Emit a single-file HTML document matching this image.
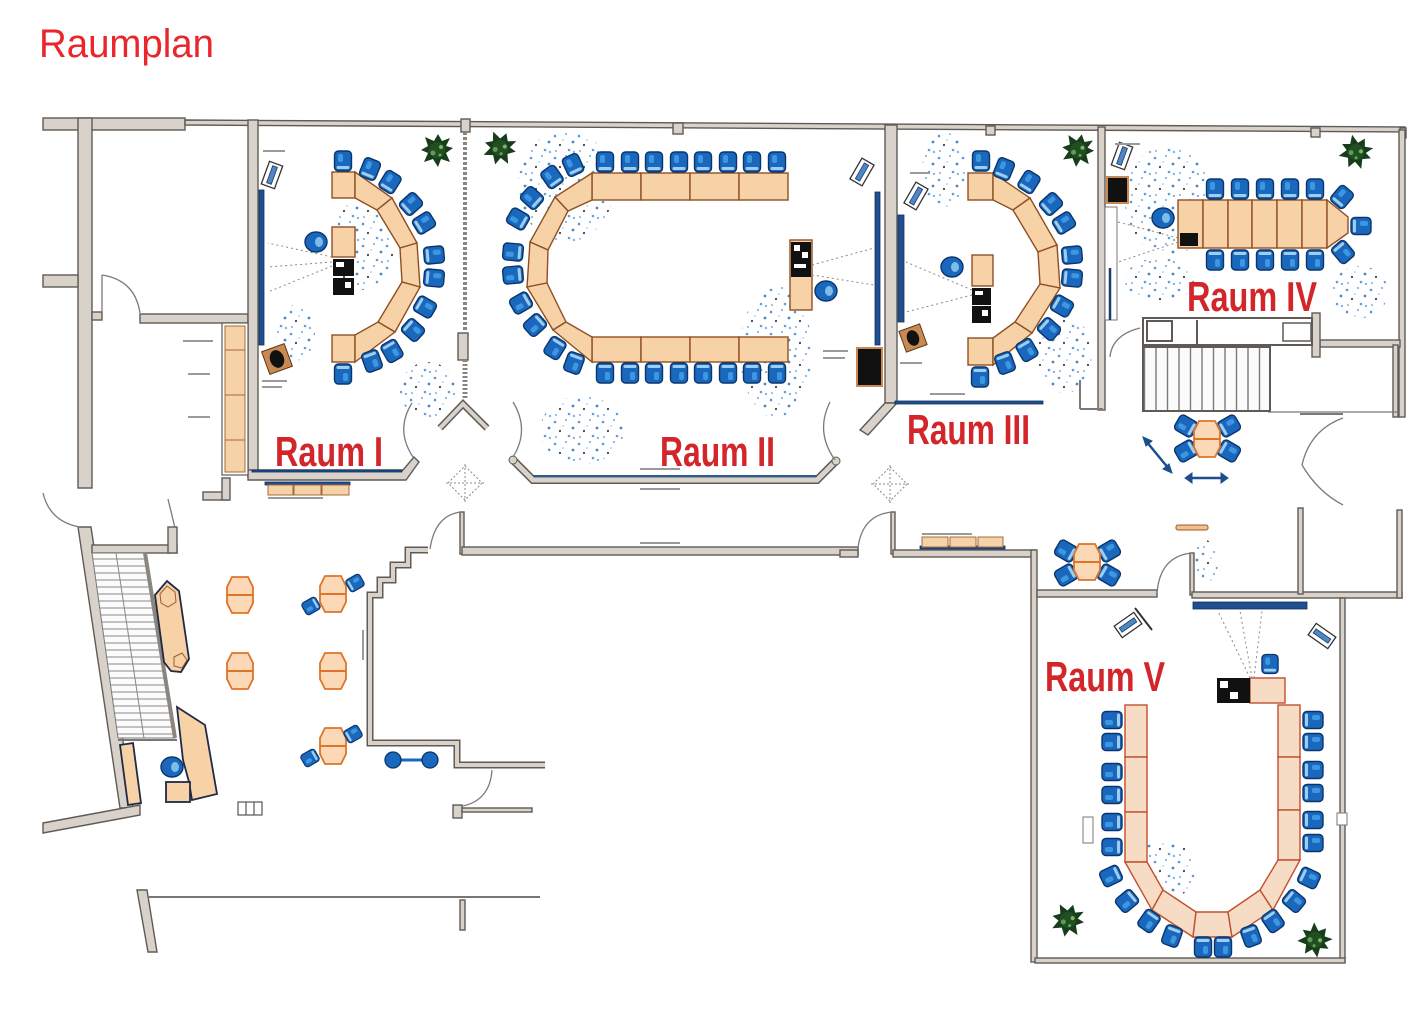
<!DOCTYPE html>
<html>
<head>
<meta charset="utf-8">
<style>
html,body{margin:0;padding:0;background:#fff;}
body{width:1426px;height:1024px;overflow:hidden;}
svg{display:block;}
.lbl{font-family:"Liberation Sans Narrow","Liberation Sans",sans-serif;font-weight:bold;fill:#d2262b;font-size:42px;}
</style>
</head>
<body>
<svg width="1426" height="1024" viewBox="0 0 1426 1024" xmlns="http://www.w3.org/2000/svg">
<defs>
  <pattern id="tread" width="10" height="7" patternUnits="userSpaceOnUse">
    <rect width="10" height="7" fill="#fbfbfb"/>
    <line x1="0" y1="6" x2="10" y2="6" stroke="#8a8a8a" stroke-width="1"/>
  </pattern>
  <pattern id="vtread" width="11.5" height="10" patternUnits="userSpaceOnUse">
    <rect width="11.5" height="10" fill="#fbfbfb"/>
    <line x1="6" y1="0" x2="6" y2="10" stroke="#7a7a7a" stroke-width="1.4"/>
  </pattern>
  <pattern id="dots" width="24" height="22" patternUnits="userSpaceOnUse">
    <circle cx="3" cy="4" r="1.3" fill="#4f93d6"/>
    <circle cx="14" cy="2" r="1.1" fill="#7ab2e4"/>
    <circle cx="21" cy="10" r="1.4" fill="#3b83cc"/>
    <circle cx="8" cy="13" r="1.1" fill="#2f3b4a"/>
    <circle cx="17" cy="18" r="1.3" fill="#5a9bd8"/>
    <circle cx="4" cy="19" r="1.1" fill="#86bce8"/>
    <circle cx="22" cy="20" r="1" fill="#4f93d6"/>
    <circle cx="11" cy="8" r="0.9" fill="#9cc8ee"/>
  </pattern>
  <g id="c">
    <rect x="-8.5" y="-10" width="17" height="20" rx="4" fill="#1a68bd" stroke="#0a356c" stroke-width="1.4"/>
    <rect x="-5" y="-7" width="5" height="8" rx="2" fill="#3f96e0"/>
    <rect x="-6.5" y="5" width="13" height="3" rx="1.5" fill="#9fcdef"/>
  </g>
  <g id="rc">
    <ellipse cx="0" cy="0" rx="11" ry="10" fill="#1a68bd" stroke="#0a356c" stroke-width="1.4"/>
    <ellipse cx="3" cy="0" rx="4" ry="5" fill="#7fbde9"/>
  </g>
  <g id="hx">
    <polygon points="-8,-18 8,-18 13,-8 13,8 8,18 -8,18 -13,8 -13,-8" fill="#fbd9b6" stroke="#e07328" stroke-width="1.8"/>
    <line x1="-13" y1="0" x2="13" y2="0" stroke="#e07328" stroke-width="2"/>
  </g>
  <g id="pl">
    <polygon points="16,-2 9,3 13,12 4,9 1,17 -4,9 -13,12 -9,3 -16,0 -9,-4 -12,-13 -3,-9 1,-16 5,-9 13,-12 9,-4" fill="#173d1a"/>
    <circle cx="0" cy="0" r="8" fill="#224f22"/>
    <circle cx="-4" cy="3" r="2.5" fill="#5f9a56"/>
    <circle cx="4" cy="-3" r="2" fill="#7db468"/>
    <circle cx="3" cy="5" r="1.5" fill="#6aa55a"/>
  </g>
  <g id="pj">
    <rect x="-12" y="-7" width="24" height="14" fill="#fff" stroke="#333" stroke-width="1.3"/>
    <rect x="-9" y="-2.5" width="18" height="5" fill="#4f86c4" stroke="#1c3d6a" stroke-width="0.8"/>
  </g>
</defs>

<rect width="1426" height="1024" fill="#ffffff"/>

<!-- Title -->
<text x="39" y="57" font-family="Liberation Sans, Arial, sans-serif" font-size="40" fill="#e8262b" textLength="175" lengthAdjust="spacingAndGlyphs">Raumplan</text>

<!-- speckles -->
<g opacity="0.95">
  <ellipse cx="362" cy="245" rx="32" ry="45" fill="url(#dots)"/>
  <ellipse cx="295" cy="333" rx="20" ry="28" fill="url(#dots)"/>
  <ellipse cx="428" cy="390" rx="28" ry="28" fill="url(#dots)"/>
  <ellipse cx="566" cy="186" rx="48" ry="56" fill="url(#dots)"/>
  <ellipse cx="776" cy="352" rx="36" ry="66" fill="url(#dots)"/>
  <ellipse cx="582" cy="430" rx="42" ry="34" fill="url(#dots)"/>
  <ellipse cx="944" cy="170" rx="22" ry="38" fill="url(#dots)"/>
  <ellipse cx="1065" cy="355" rx="28" ry="38" fill="url(#dots)"/>
  <ellipse cx="1170" cy="200" rx="45" ry="55" fill="url(#dots)"/>
  <ellipse cx="1160" cy="280" rx="35" ry="22" fill="url(#dots)"/>
  <ellipse cx="1360" cy="292" rx="28" ry="26" fill="url(#dots)"/>
  <ellipse cx="1205" cy="562" rx="13" ry="22" fill="url(#dots)"/>
  <ellipse cx="1165" cy="870" rx="30" ry="30" fill="url(#dots)"/>
</g>

<!-- ================= WALLS ================= -->
<g fill="#d9d2cb" stroke="#5f5a55" stroke-width="1.4">
  <rect x="43" y="118" width="142" height="12"/>
  <polygon points="185,120 1405,127 1405,132 185,125"/>
  <rect x="461" y="119" width="9" height="13"/>
  <rect x="673" y="123" width="10" height="11"/>
  <rect x="986" y="126" width="9" height="9"/>
  <rect x="1311" y="128" width="9" height="9"/>
  <rect x="1400" y="128" width="6" height="10"/>
  <rect x="78" y="118" width="14" height="370"/>
  <rect x="43" y="275" width="35" height="12"/>
  <rect x="92" y="312" width="10" height="8"/>
  <rect x="140" y="314" width="108" height="9"/>
  <rect x="248" y="120" width="10" height="357"/>
  <polygon points="248,470 403,470 414,457 419,462 406,480 248,480"/>
  <rect x="203" y="492" width="25" height="8"/>
  <rect x="222" y="478" width="8" height="22"/>
  <rect x="885" y="125" width="12" height="278"/>
  <polygon points="885,403 897,403 868,435 860,430"/>
  <rect x="1098" y="127" width="7" height="283"/>
  <rect x="1399" y="130" width="6" height="287"/>
  <rect x="1320" y="340" width="80" height="7"/>
  <rect x="1312" y="313" width="8" height="44"/>
  <rect x="460" y="512" width="4" height="42"/>
  <rect x="462" y="547" width="396" height="8"/>
  <rect x="840" y="550" width="18" height="7"/>
  <rect x="891" y="512" width="4" height="42"/>
  <rect x="893" y="550" width="142" height="7"/>
  <rect x="1031" y="550" width="6" height="412"/>
  <rect x="1037" y="590" width="120" height="7"/>
  <rect x="1190" y="553" width="4" height="42"/>
  <rect x="1192" y="592" width="210" height="6"/>
  <rect x="1340" y="598" width="5" height="364"/>
  <rect x="1035" y="958" width="310" height="5"/>
  <rect x="1298" y="508" width="5" height="86"/>
  <rect x="1397" y="510" width="5" height="88"/>
  <rect x="1393" y="345" width="5" height="72"/>
  <polygon points="78,527 91,527 133,808 120,808"/>
  <polygon points="43,823 140,805 140,815 43,833"/>
  <rect x="92" y="545" width="85" height="8"/>
  <rect x="168" y="527" width="9" height="26"/>
  <polygon points="137,890 147,890 157,952 148,952"/>
  <rect x="460" y="900" width="5" height="30"/>
  <rect x="453" y="805" width="9" height="13"/>
  <rect x="462" y="808" width="70" height="4"/>
  <rect x="458" y="333" width="10" height="27"/>
</g>

<!-- stepped lobby wall -->
<polyline points="428,550 408,550 408,565 393,565 393,580 380,580 380,595 370,595 370,743 457,743 457,765 545,765" fill="none" stroke="#5f5a55" stroke-width="7"/>
<polyline points="428,550 408,550 408,565 393,565 393,580 380,580 380,595 370,595 370,743 457,743 457,765 545,765" fill="none" stroke="#d9d2cb" stroke-width="4"/>

<!-- Raum II bottom wall -->
<polyline points="513,460 533,480 817,480 836,461" fill="none" stroke="#5f5a55" stroke-width="8"/>
<polyline points="513,460 533,480 817,480 836,461" fill="none" stroke="#d9d2cb" stroke-width="5"/>
<line x1="533" y1="476" x2="817" y2="476" stroke="#2a5c9a" stroke-width="2"/>
<circle cx="513" cy="460" r="4" fill="#d9d2cb" stroke="#5f5a55"/>
<circle cx="836" cy="461" r="4" fill="#d9d2cb" stroke="#5f5a55"/>
<rect x="640" y="468" width="40" height="2" fill="#999"/>
<rect x="640" y="488" width="40" height="2" fill="#999"/>
<rect x="640" y="542" width="40" height="2" fill="#999"/>

<!-- partition I/II -->
<line x1="465" y1="132" x2="465" y2="333" stroke="#8a8580" stroke-width="4" stroke-dasharray="3,2"/>
<line x1="465" y1="360" x2="465" y2="400" stroke="#8a8580" stroke-width="5" stroke-dasharray="2,2"/>
<polyline points="440,428 463,404 487,428" fill="none" stroke="#5f5a55" stroke-width="7"/>
<polyline points="440,428 463,404 487,428" fill="none" stroke="#d9d2cb" stroke-width="4"/>

<!-- door arcs -->
<g fill="none" stroke="#7a7a7a" stroke-width="1.3">
  <path d="M102,275 L102,313"/>
  <path d="M102,275 Q135,280 140,313"/>
  <path d="M412,403 Q395,430 413,457"/>
  <path d="M513,402 Q530,430 513,457"/>
  <path d="M830,402 Q815,432 835,460"/>
  <path d="M430,549 Q435,515 461,512"/>
  <path d="M858,548 Q862,515 892,512"/>
  <path d="M1157,593 Q1160,556 1192,553"/>
  <path d="M43,493 Q50,522 80,527"/>
  <path d="M492,770 Q490,800 463,806"/>
  <path d="M1140,328 Q1112,335 1110,357"/>
  <path d="M1343,418 Q1310,430 1302,465"/>
  <path d="M1302,465 Q1318,492 1343,505"/>
  <line x1="1300" y1="414" x2="1343" y2="414" stroke-width="2"/>
  <line x1="1268" y1="412" x2="1400" y2="412"/>
  <line x1="1080" y1="380" x2="1080" y2="409" stroke-width="2"/>
  <line x1="1080" y1="409" x2="1103" y2="409" stroke-width="2"/>
  <line x1="168" y1="499" x2="175" y2="528"/>
  <line x1="148" y1="897" x2="540" y2="897" stroke="#777" stroke-width="2"/>
</g>

<!-- diamonds -->
<g fill="none" stroke="#888" stroke-width="1" stroke-dasharray="2,2">
  <polygon points="465,466 482,483 465,500 448,483"/>
  <line x1="465" y1="464" x2="465" y2="502"/>
  <line x1="446" y1="483" x2="484" y2="483"/>
  <polygon points="890,467 907,484 890,501 873,484"/>
  <line x1="890" y1="465" x2="890" y2="503"/>
  <line x1="871" y1="484" x2="909" y2="484"/>
</g>

<!-- screens (blue) -->
<g fill="#1f4f8e" stroke="#0d2f5e" stroke-width="0.8">
  <rect x="259" y="190" width="5" height="155"/>
  <rect x="875" y="192" width="5" height="153"/>
  <rect x="898" y="215" width="6" height="107"/>
  <rect x="895" y="401" width="148" height="3"/>
  <rect x="1193" y="602" width="114" height="7"/>
  <rect x="920" y="546" width="85" height="3"/>
  <rect x="265" y="482" width="85" height="3"/>
  <rect x="252" y="470" width="150" height="2"/>
</g>

<!-- kitchen counter -->
<rect x="222" y="323" width="26" height="152" fill="#fff" stroke="#5f5a55" stroke-width="1.2"/>
<g fill="#f6d2a8" stroke="#a8683a" stroke-width="1">
  <rect x="225" y="326" width="20" height="24"/>
  <rect x="225" y="350" width="20" height="45"/>
  <rect x="225" y="395" width="20" height="45"/>
  <rect x="225" y="440" width="20" height="32"/>
  <rect x="268" y="485" width="25" height="10"/>
  <rect x="294" y="485" width="27" height="10"/>
  <rect x="322" y="485" width="27" height="10"/>
  <rect x="922" y="537" width="26" height="10"/>
  <rect x="950" y="537" width="26" height="10"/>
  <rect x="978" y="537" width="25" height="10"/>
</g>

<!-- stairs left -->
<polygon points="92,553 145,553 175,738 118,738" fill="url(#tread)" stroke="#777" stroke-width="1"/>
<line x1="145" y1="553" x2="175" y2="738" stroke="#8a8580" stroke-width="4"/>
<line x1="116" y1="553" x2="144" y2="738" stroke="#888" stroke-width="1"/>
<line x1="118" y1="740" x2="177" y2="740" stroke="#777" stroke-width="2"/>
<!-- stairs Raum IV -->
<rect x="1143" y="347" width="127" height="64" fill="url(#vtread)" stroke="#5f5a55" stroke-width="2"/>
<rect x="1143" y="318" width="169" height="27" fill="#fff" stroke="#5f5a55" stroke-width="2"/>
<rect x="1147" y="321" width="25" height="20" fill="#fff" stroke="#5f5a55" stroke-width="2"/>
<line x1="1197" y1="320" x2="1197" y2="345" stroke="#5f5a55" stroke-width="2"/>
<rect x="1283" y="323" width="28" height="18" fill="#fff" stroke="#5f5a55" stroke-width="1.5"/>
<line x1="1270" y1="347" x2="1270" y2="411" stroke="#5f5a55" stroke-width="2"/>

<!-- ================= FURNITURE ================= -->
<!-- Raum I tables -->
<g fill="#f7d2a6" stroke="#8e4f24" stroke-width="1.4">
  <rect x="332" y="172" width="23" height="26"/>
  <rect x="332" y="335" width="23" height="27"/>
  <polygon points="355,172 392,198 377,210 355,198"/>
  <polygon points="392,198 417,243 400,248 377,210"/>
  <polygon points="417,243 420,287 402,282 400,248"/>
  <polygon points="420,287 395,332 378,322 402,282"/>
  <polygon points="395,332 355,362 355,335 378,322"/>
  <rect x="332" y="227" width="23" height="30"/>
</g>
<g>
  <rect x="333" y="259" width="21" height="17" fill="#111"/>
  <rect x="336" y="262" width="8" height="5" fill="#fff"/>
  <rect x="333" y="278" width="21" height="17" fill="#111"/>
  <rect x="345" y="282" width="6" height="6" fill="#fff"/>
</g>
<use href="#rc" transform="translate(316,242)"/>
<g>
  <use href="#c" transform="translate(343,161)"/>
  <use href="#c" transform="translate(370,169) rotate(22)"/>
  <use href="#c" transform="translate(390,182) rotate(32)"/>
  <use href="#c" transform="translate(411,204) rotate(48)"/>
  <use href="#c" transform="translate(424,223) rotate(58)"/>
  <use href="#c" transform="translate(434,255) rotate(85)"/>
  <use href="#c" transform="translate(434,278) rotate(95)"/>
  <use href="#c" transform="translate(425,307) rotate(120)"/>
  <use href="#c" transform="translate(413,330) rotate(132)"/>
  <use href="#c" transform="translate(392,351) rotate(150)"/>
  <use href="#c" transform="translate(372,361) rotate(160)"/>
  <use href="#c" transform="translate(343,374) rotate(180)"/>
</g>
<use href="#pj" transform="translate(272,175) rotate(-70)"/>
<g transform="translate(277,359) rotate(-20)">
  <rect x="-12" y="-12" width="24" height="24" fill="#c88a52" stroke="#5a3518"/>
  <ellipse cx="0" cy="0" rx="7" ry="9" fill="#111"/>
</g>

<!-- Raum II tables -->
<g fill="#f7d2a6" stroke="#8e4f24" stroke-width="1.4">
  <rect x="592" y="173" width="49" height="27"/>
  <rect x="641" y="173" width="49" height="27"/>
  <rect x="690" y="173" width="49" height="27"/>
  <rect x="739" y="173" width="49" height="27"/>
  <rect x="592" y="337" width="49" height="25"/>
  <rect x="641" y="337" width="49" height="25"/>
  <rect x="690" y="337" width="49" height="25"/>
  <rect x="739" y="337" width="49" height="25"/>
  <polygon points="592,173 555,197 568,211 592,200"/>
  <polygon points="555,197 530,242 548,250 568,211"/>
  <polygon points="530,242 527,287 547,283 548,250"/>
  <polygon points="527,287 553,330 566,322 547,283"/>
  <polygon points="553,330 592,362 592,337 566,322"/>
  <rect x="790" y="240" width="22" height="70"/>
</g>
<rect x="791" y="242" width="20" height="35" fill="#111"/>
<rect x="794" y="245" width="6" height="6" fill="#fff"/>
<rect x="802" y="252" width="6" height="6" fill="#fff"/>
<rect x="794" y="264" width="12" height="4" fill="#fff"/>
<use href="#rc" transform="translate(826,291)"/>
<rect x="857" y="348" width="25" height="38" fill="#111" stroke="#c88a52" stroke-width="2"/>
<use href="#pj" transform="translate(862,172) rotate(-60)"/>
<g>
  <use href="#c" transform="translate(605,162)"/>
  <use href="#c" transform="translate(630,162)"/>
  <use href="#c" transform="translate(654,162)"/>
  <use href="#c" transform="translate(679,162)"/>
  <use href="#c" transform="translate(703,162)"/>
  <use href="#c" transform="translate(728,162)"/>
  <use href="#c" transform="translate(752,162)"/>
  <use href="#c" transform="translate(777,162)"/>
  <use href="#c" transform="translate(605,373) rotate(180)"/>
  <use href="#c" transform="translate(630,373) rotate(180)"/>
  <use href="#c" transform="translate(654,373) rotate(180)"/>
  <use href="#c" transform="translate(679,373) rotate(180)"/>
  <use href="#c" transform="translate(703,373) rotate(180)"/>
  <use href="#c" transform="translate(728,373) rotate(180)"/>
  <use href="#c" transform="translate(752,373) rotate(180)"/>
  <use href="#c" transform="translate(777,373) rotate(180)"/>
  <use href="#c" transform="translate(573,165) rotate(-25)"/>
  <use href="#c" transform="translate(552,177) rotate(-35)"/>
  <use href="#c" transform="translate(532,198) rotate(-48)"/>
  <use href="#c" transform="translate(518,219) rotate(-60)"/>
  <use href="#c" transform="translate(513,252) rotate(-85)"/>
  <use href="#c" transform="translate(513,275) rotate(-95)"/>
  <use href="#c" transform="translate(521,303) rotate(-120)"/>
  <use href="#c" transform="translate(535,325) rotate(-132)"/>
  <use href="#c" transform="translate(555,348) rotate(-148)"/>
  <use href="#c" transform="translate(574,363) rotate(-160)"/>
</g>

<!-- Raum III tables -->
<g fill="#f7d2a6" stroke="#8e4f24" stroke-width="1.4">
  <rect x="968" y="173" width="25" height="27"/>
  <rect x="968" y="338" width="25" height="27"/>
  <polygon points="993,173 1030,198 1013,210 993,200"/>
  <polygon points="1030,198 1057,245 1038,252 1013,210"/>
  <polygon points="1057,245 1060,288 1040,284 1038,252"/>
  <polygon points="1060,288 1032,333 1015,322 1040,284"/>
  <polygon points="1032,333 993,365 993,338 1015,322"/>
  <rect x="972" y="255" width="21" height="31"/>
</g>
<rect x="972" y="288" width="19" height="17" fill="#111"/>
<rect x="975" y="291" width="8" height="4" fill="#fff"/>
<rect x="972" y="306" width="19" height="17" fill="#111"/>
<rect x="982" y="310" width="6" height="6" fill="#fff"/>
<use href="#rc" transform="translate(952,267)"/>
<use href="#pj" transform="translate(916,196) rotate(-60)"/>
<g transform="translate(913,338) rotate(-20)">
  <rect x="-11" y="-11" width="22" height="22" fill="#c88a52" stroke="#5a3518"/>
  <ellipse cx="0" cy="0" rx="6" ry="8" fill="#111"/>
</g>
<g>
  <use href="#c" transform="translate(981,161)"/>
  <use href="#c" transform="translate(1004,169) rotate(22)"/>
  <use href="#c" transform="translate(1029,182) rotate(32)"/>
  <use href="#c" transform="translate(1051,204) rotate(48)"/>
  <use href="#c" transform="translate(1064,223) rotate(58)"/>
  <use href="#c" transform="translate(1072,255) rotate(85)"/>
  <use href="#c" transform="translate(1072,278) rotate(95)"/>
  <use href="#c" transform="translate(1062,306) rotate(120)"/>
  <use href="#c" transform="translate(1049,329) rotate(132)"/>
  <use href="#c" transform="translate(1027,350) rotate(150)"/>
  <use href="#c" transform="translate(1005,363) rotate(160)"/>
  <use href="#c" transform="translate(980,377) rotate(180)"/>
</g>

<!-- Raum IV -->
<g fill="#f7d2a6" stroke="#8e4f24" stroke-width="1.4">
  <rect x="1178" y="200" width="25" height="48"/>
  <rect x="1203" y="200" width="25" height="48"/>
  <rect x="1228" y="200" width="24" height="48"/>
  <rect x="1252" y="200" width="25" height="48"/>
  <rect x="1277" y="200" width="25" height="48"/>
  <rect x="1302" y="200" width="25" height="48"/>
  <polygon points="1327,200 1348,217 1348,233 1327,248"/>
</g>
<rect x="1180" y="233" width="18" height="13" fill="#111"/>
<rect x="1107" y="177" width="21" height="26" fill="#111" stroke="#c88a52" stroke-width="2"/>
<use href="#pj" transform="translate(1122,156) rotate(-70)"/>
<rect x="1105" y="207" width="12" height="113" fill="#fff" stroke="#777" stroke-width="1"/>
<line x1="1110" y1="268" x2="1110" y2="320" stroke="#1a3d6e" stroke-width="2.5"/>
<g>
  <use href="#c" transform="translate(1215,189)"/>
  <use href="#c" transform="translate(1240,189)"/>
  <use href="#c" transform="translate(1265,189)"/>
  <use href="#c" transform="translate(1290,189)"/>
  <use href="#c" transform="translate(1315,189)"/>
  <use href="#c" transform="translate(1342,197) rotate(40)"/>
  <use href="#c" transform="translate(1215,260) rotate(180)"/>
  <use href="#c" transform="translate(1240,260) rotate(180)"/>
  <use href="#c" transform="translate(1265,260) rotate(180)"/>
  <use href="#c" transform="translate(1290,260) rotate(180)"/>
  <use href="#c" transform="translate(1315,260) rotate(180)"/>
  <use href="#c" transform="translate(1343,252) rotate(140)"/>
  <use href="#c" transform="translate(1361,226) rotate(90)"/>
  <use href="#rc" transform="translate(1163,218)"/>
</g>

<!-- corridor table groups -->
<g>
  <use href="#c" transform="translate(1186,426) rotate(-60)"/>
  <use href="#c" transform="translate(1229,426) rotate(60)"/>
  <use href="#c" transform="translate(1186,451) rotate(-120)"/>
  <use href="#c" transform="translate(1229,451) rotate(120)"/>
  <use href="#hx" transform="translate(1207,439)"/>
  <use href="#c" transform="translate(1066,551) rotate(-60)"/>
  <use href="#c" transform="translate(1109,551) rotate(60)"/>
  <use href="#c" transform="translate(1066,575) rotate(-120)"/>
  <use href="#c" transform="translate(1109,575) rotate(120)"/>
  <use href="#hx" transform="translate(1087,562)"/>
</g>
<!-- arrows -->
<g stroke="#1c4f8c" stroke-width="2.5" fill="#1c4f8c">
  <line x1="1146" y1="441" x2="1169" y2="469"/>
  <polygon points="1143,437 1152,441 1146,446" stroke-width="1"/>
  <polygon points="1172,473 1163,469 1169,464" stroke-width="1"/>
  <line x1="1189" y1="478" x2="1224" y2="478"/>
  <polygon points="1185,478 1192,473 1192,483" stroke-width="1"/>
  <polygon points="1228,478 1221,473 1221,483" stroke-width="1"/>
</g>
<rect x="1176" y="525" width="32" height="5" rx="2" fill="#f2c08c" stroke="#9c5a2c"/>

<!-- lobby -->
<g fill="#f7d2a6" stroke="#1f2a44" stroke-width="1.8">
  <polygon points="155,595 167,581 179,591 189,659 181,672 171,671 164,662"/>
  <polygon points="177,707 205,725 217,794 192,800 189,782 183,760"/>
  <rect x="166" y="782" width="24" height="20"/>
  <polygon points="120,745 133,743 141,803 128,805"/>
</g>
<g fill="none" stroke="#9c5a2c" stroke-width="1">
  <polygon points="160,594 167,586 175,592 176,602 168,607 161,603"/>
  <polygon points="174,657 182,653 187,660 182,668 174,666"/>
</g>
<use href="#rc" transform="translate(172,767)"/>
<g fill="#fff" stroke="#555" stroke-width="1.2">
  <rect x="238" y="802" width="24" height="13"/>
  <line x1="246" y1="802" x2="246" y2="815"/>
  <line x1="254" y1="802" x2="254" y2="815"/>
</g>
<g>
  <use href="#hx" transform="translate(240,595)"/>
  <use href="#hx" transform="translate(240,671)"/>
  <use href="#hx" transform="translate(333,594)"/>
  <use href="#hx" transform="translate(333,671)"/>
  <use href="#hx" transform="translate(333,746)"/>
</g>
<g>
  <use href="#c" transform="translate(355,583) rotate(60) scale(0.8)"/>
  <use href="#c" transform="translate(311,606) rotate(-120) scale(0.8)"/>
  <use href="#c" transform="translate(353,734) rotate(60) scale(0.8)"/>
  <use href="#c" transform="translate(310,758) rotate(-120) scale(0.8)"/>
</g>
<g>
  <line x1="393" y1="760" x2="430" y2="760" stroke="#1a68bd" stroke-width="3"/>
  <circle cx="393" cy="760" r="8" fill="#1a68bd" stroke="#0a356c" stroke-width="1.3"/>
  <circle cx="430" cy="760" r="8" fill="#1a68bd" stroke="#0a356c" stroke-width="1.3"/>
</g>

<!-- Raum V -->
<g fill="#f6dcc4" stroke="#c0502c" stroke-width="1.4">
  <rect x="1125" y="705" width="22" height="52"/>
  <rect x="1125" y="757" width="22" height="55"/>
  <rect x="1125" y="812" width="22" height="50"/>
  <rect x="1278" y="705" width="22" height="52"/>
  <rect x="1278" y="757" width="22" height="53"/>
  <rect x="1278" y="810" width="22" height="50"/>
  <polygon points="1125,862 1152,910 1163,890 1147,862"/>
  <polygon points="1152,910 1193,937 1196,912 1163,890"/>
  <polygon points="1193,937 1232,937 1228,912 1196,912"/>
  <polygon points="1232,937 1273,910 1260,890 1228,912"/>
  <polygon points="1273,910 1300,860 1278,860 1260,890"/>
  <rect x="1250" y="678" width="35" height="25"/>
</g>
<rect x="1217" y="678" width="33" height="25" fill="#111"/>
<rect x="1220" y="681" width="8" height="7" fill="#fff"/>
<rect x="1230" y="692" width="8" height="7" fill="#fff"/>
<use href="#c" transform="translate(1270,664) scale(0.95)"/>
<g>
  <use href="#c" transform="translate(1112,720) rotate(-90)"/>
  <use href="#c" transform="translate(1112,742) rotate(-90)"/>
  <use href="#c" transform="translate(1112,772) rotate(-90)"/>
  <use href="#c" transform="translate(1112,795) rotate(-90)"/>
  <use href="#c" transform="translate(1112,822) rotate(-90)"/>
  <use href="#c" transform="translate(1112,847) rotate(-90)"/>
  <use href="#c" transform="translate(1313,720) rotate(90)"/>
  <use href="#c" transform="translate(1313,742) rotate(90)"/>
  <use href="#c" transform="translate(1313,770) rotate(90)"/>
  <use href="#c" transform="translate(1313,793) rotate(90)"/>
  <use href="#c" transform="translate(1313,820) rotate(90)"/>
  <use href="#c" transform="translate(1313,843) rotate(90)"/>
  <use href="#c" transform="translate(1111,876) rotate(-115)"/>
  <use href="#c" transform="translate(1127,901) rotate(-130)"/>
  <use href="#c" transform="translate(1149,921) rotate(-145)"/>
  <use href="#c" transform="translate(1172,936) rotate(-160)"/>
  <use href="#c" transform="translate(1203,947) rotate(180)"/>
  <use href="#c" transform="translate(1223,947) rotate(180)"/>
  <use href="#c" transform="translate(1251,936) rotate(160)"/>
  <use href="#c" transform="translate(1273,921) rotate(145)"/>
  <use href="#c" transform="translate(1294,901) rotate(130)"/>
  <use href="#c" transform="translate(1309,878) rotate(115)"/>
</g>
<use href="#pj" transform="translate(1128,625) rotate(-35)"/>
<line x1="1135" y1="608" x2="1152" y2="630" stroke="#333" stroke-width="2"/>
<use href="#pj" transform="translate(1322,636) rotate(35)"/>
<g fill="#fff" stroke="#777" stroke-width="1">
  <rect x="1083" y="817" width="10" height="26"/>
  <rect x="1337" y="813" width="10" height="12"/>
</g>

<!-- projection lines -->
<g stroke="#8a8a8a" stroke-width="1" stroke-dasharray="2,3" fill="none">
  <line x1="332" y1="257" x2="268" y2="243"/>
  <line x1="332" y1="262" x2="268" y2="267"/>
  <line x1="332" y1="266" x2="268" y2="292"/>
  <line x1="812" y1="265" x2="874" y2="248"/>
  <line x1="812" y1="275" x2="874" y2="285"/>
  <line x1="972" y1="290" x2="906" y2="262"/>
  <line x1="972" y1="295" x2="906" y2="312"/>
  <line x1="1178" y1="238" x2="1118" y2="222"/>
  <line x1="1178" y1="242" x2="1118" y2="262"/>
  <line x1="1250" y1="678" x2="1218" y2="611"/>
  <line x1="1252" y1="678" x2="1240" y2="611"/>
  <line x1="1254" y1="678" x2="1262" y2="611"/>
</g>

<!-- plants -->
<use href="#pl" transform="translate(437,150)"/>
<use href="#pl" transform="translate(500,148) rotate(20)"/>
<use href="#pl" transform="translate(1078,150) rotate(10)"/>
<use href="#pl" transform="translate(1356,152) rotate(30)"/>
<use href="#pl" transform="translate(1068,920) rotate(15)"/>
<use href="#pl" transform="translate(1315,940) rotate(40)"/>

<!-- tiny annotation marks -->
<g fill="#9a9a9a">
  <rect x="263" y="150" width="22" height="2"/>
  <rect x="262" y="380" width="25" height="2"/>
  <rect x="262" y="386" width="20" height="2"/>
  <rect x="183" y="340" width="30" height="2"/>
  <rect x="188" y="373" width="22" height="2"/>
  <rect x="188" y="416" width="22" height="2"/>
  <rect x="910" y="172" width="20" height="2"/>
  <rect x="823" y="350" width="25" height="2"/>
  <rect x="823" y="357" width="22" height="2"/>
  <rect x="900" y="362" width="22" height="2"/>
  <rect x="930" y="393" width="35" height="2"/>
  <rect x="1115" y="143" width="25" height="2"/>
  <rect x="922" y="533" width="50" height="2"/>
  <rect x="268" y="497" width="55" height="2"/>
  <rect x="362" y="630" width="2" height="30"/>
</g>

<!-- room labels -->
<text class="lbl" x="275" y="466" textLength="108" lengthAdjust="spacingAndGlyphs">Raum I</text>
<text class="lbl" x="660" y="466" textLength="115" lengthAdjust="spacingAndGlyphs">Raum II</text>
<text class="lbl" x="907" y="444" textLength="123" lengthAdjust="spacingAndGlyphs">Raum III</text>
<text class="lbl" x="1187" y="311" textLength="130" lengthAdjust="spacingAndGlyphs">Raum IV</text>
<text class="lbl" x="1045" y="691" textLength="120" lengthAdjust="spacingAndGlyphs">Raum V</text>
</svg>
</body>
</html>
